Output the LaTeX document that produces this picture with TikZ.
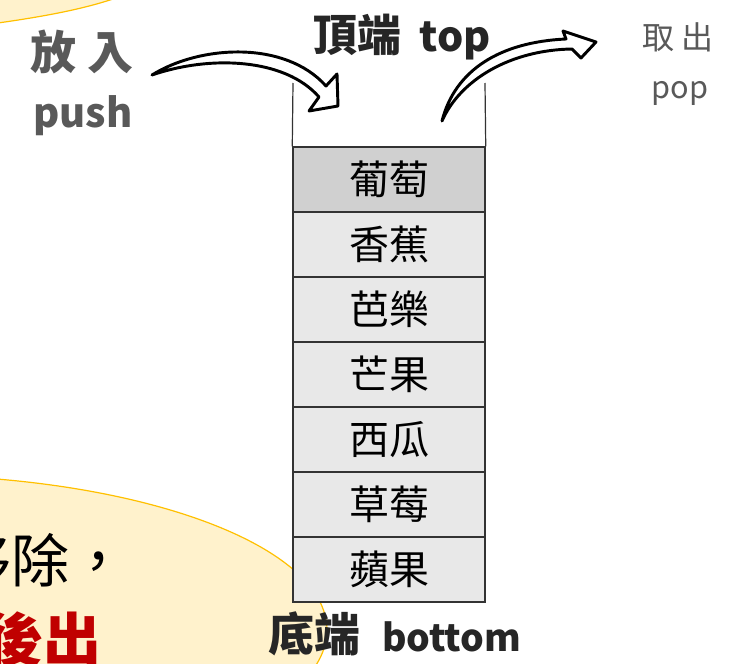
\documentclass[tikz,border=0pt]{standalone}
\usepackage{fontspec}
\newfontfamily\tc{Noto Sans CJK TC}
\newcommand\fsz[1]{\fontsize{#1}{#1}\selectfont}
\definecolor{ylfill}{HTML}{FFF2CC}
\definecolor{ylline}{HTML}{FFC000}
\definecolor{cellA}{HTML}{D0D0D0}
\definecolor{cellB}{HTML}{E8E8E8}
\definecolor{handgray}{HTML}{595959}
\definecolor{darktxt}{HTML}{262626}
\definecolor{redtxt}{HTML}{C00000}
\definecolor{edge}{HTML}{333333}
\tikzset{
  cell/.style={draw=edge, line width=1.1pt, minimum width=144pt, minimum height=48.75pt,
    inner sep=0pt, font={\tc\fsz{30pt}}, text=black},
  txt/.style={inner sep=0pt, outer sep=0pt},
  bigarrow/.style={draw=black, fill=white, line width=2.2pt, line join=round, line cap=round},
  blob/.style={fill=ylfill, draw=ylline, line width=0.9pt}
}
\begin{document}
\begin{tikzpicture}[x=0.75pt,y=-0.75pt]
\useasboundingbox (0,0) rectangle (743,664);
\clip (0,0) rectangle (743,664);
% yellow shapes
\fill[ylfill] (-2,23) .. controls (40,17) and (80,10) .. (113,-1) -- (-2,-1) -- cycle;
\draw[ylline, line width=0.9pt] (-2,23) .. controls (40,17) and (80,10) .. (113,-1);
\path[blob] (-100,630) ellipse [x radius=320.25pt, y radius=116.25pt];
\node[txt, anchor=east, font={\tc\fsz{43.5pt}}, text=black] (t1) at (128,560) {移除，};
\node[txt, anchor=east, font={\tc\bfseries\fsz{43.5pt}}, text=redtxt] (t2) at (102,640) {後出};
% stack
\node[cell, fill=cellA] (c1) at (389,179.5) {葡萄};
\node[cell, fill=cellB] (c2) at (389,244.5) {香蕉};
\node[cell, fill=cellB] (c3) at (389,309.5) {芭樂};
\node[cell, fill=cellB] (c4) at (389,374.5) {芒果};
\node[cell, fill=cellB] (c5) at (389,439.5) {西瓜};
\node[cell, fill=cellB] (c6) at (389,504.5) {草莓};
\node[cell, fill=cellB] (c7) at (389,569.5) {蘋果};
\coordinate (wl) at (293,83);
\coordinate (wr) at (485,83);
\draw[edge, line width=0.9pt] (wl) -- (c1.north west);
\draw[edge, line width=0.9pt] (wr) -- (c1.north east);
% arrows
\path[bigarrow] (152,75) .. controls (200,45) and (285,40) .. (326,86) -- (337,74) -- (338,106)
  -- (309,111) -- (319,97) .. controls (285,58) and (210,55) .. cycle;
\path[bigarrow] (442,121) .. controls (455,70) and (500,42) .. (566,39) -- (563,31) -- (596,42)
  -- (581,58) -- (572,49) .. controls (510,50) and (460,80) .. cycle;
% labels
\node[txt, font={\tc\bfseries\fsz{34.5pt}}, text=handgray] (pushcn) at (82,52) {放 入};
\node[txt, anchor=base, font={\tc\bfseries\fsz{30pt}}, text=handgray] (pushen) at (83,127) {push};
\node[txt, anchor=base, text=darktxt] (top) at (402,51)
  {{\tc\bfseries\fsz{33pt}頂端}\hspace{14pt}{\tc\bfseries\fsz{31pt}top}};
\node[txt, font={\tc\fsz{24pt}}, text=handgray] (popcn) at (678,37) {取 出};
\node[txt, anchor=base, font={\tc\fsz{23pt}}, text=handgray] (popen) at (680,98) {pop};
\node[txt, anchor=base, text=darktxt] (bottom) at (395,651)
  {{\tc\bfseries\fsz{34.5pt}底端}\hspace{16pt}{\tc\bfseries\fsz{28pt}bottom}};
\end{tikzpicture}
\end{document}
